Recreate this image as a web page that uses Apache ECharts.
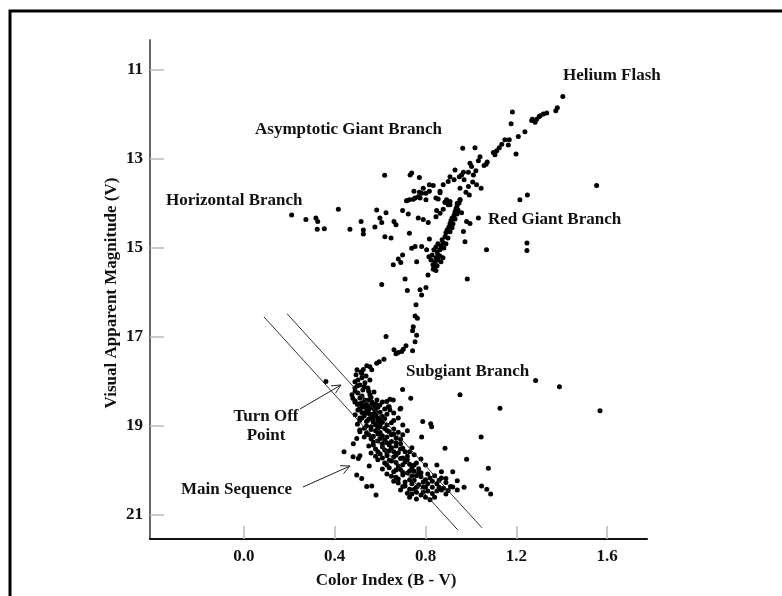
<!DOCTYPE html>
<html>
<head>
<meta charset="utf-8">
<script src="https://cdn.jsdelivr.net/npm/echarts@6/dist/echarts.min.js"></script>
<style>
  html, body { margin: 0; padding: 0; background: #fff; }
  #chart { width: 782px; height: 596px; }
</style>
</head>
<body>
<div id="chart"></div>
<script>
// tick labels
const xTicks = [0.0, 0.4, 0.8, 1.2, 1.6];
const yTicks = [11, 13, 15, 17, 19, 21];

// stars, [B-V, V]
const giantBranch = [
  [1.405,11.60],[1.381,11.85],[1.374,11.92],[1.334,11.97],[1.319,11.99],[1.301,12.05],[1.290,12.11],[1.283,12.18],
  [1.271,12.11],[1.183,11.95],[1.177,12.21],[1.238,12.39],[1.209,12.50],[1.169,12.57],[1.150,12.57],[1.165,12.69],
  [1.136,12.67],[1.125,12.75],[1.114,12.82],[1.106,12.91],[1.099,12.86],[1.199,12.89],[1.072,13.07],[1.067,13.12],
  [1.058,13.15],[1.040,12.95],[1.018,12.75],[0.964,12.76],[1.033,13.04],[1.003,13.17],[0.996,13.10],[1.022,13.27],
  [1.011,13.36],[0.989,13.30],[0.967,13.30],[0.959,13.36],[0.970,13.47],[0.949,13.40],[0.930,13.25],[0.926,13.47],
  [1.025,13.58],[1.008,13.52],[0.989,13.62],[1.045,13.66],[0.978,13.75],[0.993,13.81],[0.952,13.66],[0.908,13.40],
  [0.900,13.51],[0.878,13.58],[0.864,13.73],[0.834,13.60],[0.817,13.58],[0.790,13.66],[0.802,13.77],[0.773,13.75],
  [0.776,13.88],[0.749,13.73],[0.739,13.32],[0.773,13.42],[0.732,13.36],[0.754,13.88],[0.729,13.92],[0.717,13.94],
  [0.856,13.90],[0.886,13.97],[0.893,13.92],[0.952,13.92],[0.940,14.00],[0.908,14.03],[0.620,13.37],
  [1.268,12.14],[1.305,12.03],
  [0.739,15.01],[0.754,14.97],[0.768,14.33],[0.790,14.36],[0.812,14.43],[0.783,14.97],[0.805,15.04],[0.817,14.80],
  [0.761,15.31],[0.699,15.16],[0.680,15.25],[0.658,15.38],[0.691,15.33],[0.710,15.70],[0.607,15.82],[0.720,15.96],
  [0.776,15.94],[0.783,16.06],[0.802,15.89],[0.758,16.28],[0.811,15.61],[0.834,15.48],[0.846,15.51],[0.984,15.70],
  [1.069,15.04],[0.974,14.86],[0.967,14.63],[0.981,14.41],[0.996,14.45],[1.033,14.33],[0.959,14.21],[0.846,14.30],
  [0.849,14.16],[0.864,14.22],[0.878,14.13],[0.886,13.98],[0.908,13.96],[0.900,14.03],[0.717,13.94],[0.746,13.91],
  [0.768,13.85],[0.783,13.77],[0.802,13.92],[0.817,13.73],[0.846,13.88],[0.864,13.76],
  // dense ridge
  [0.842,15.31],[0.846,15.22],[0.855,15.16],[0.851,15.09],[0.864,15.04],[0.868,14.96],[0.877,14.89],[0.873,14.82],
  [0.886,14.75],[0.890,14.66],[0.895,14.60],[0.903,14.53],[0.908,14.46],[0.912,14.39],[0.917,14.33],[0.926,14.26],
  [0.930,14.19],[0.934,14.12],[0.939,14.06],[0.948,13.99],[0.952,13.92],[0.833,15.38],[0.855,15.27],[0.864,15.18],
  [0.881,15.00],[0.890,14.91],[0.899,14.78],[0.908,14.64],[0.917,14.55],[0.921,14.46],[0.930,14.35],[0.939,14.24],
  [0.943,14.15],[0.829,15.16],[0.837,15.04],[0.846,14.98],[0.855,14.91],[0.824,15.27],[0.815,15.20],[0.868,15.31],
  [0.877,15.22],[0.837,15.45],[0.851,15.40]
];

const horizontalBranch = [
  [0.210,14.26],[0.273,14.36],[0.317,14.33],[0.325,14.41],[0.323,14.58],[0.354,14.57],[0.416,14.13],[0.467,14.58],
  [0.516,14.41],[0.526,14.60],[0.526,14.69],[0.585,14.15],[0.577,14.53],[0.599,14.33],[0.607,14.43],[0.626,14.21],
  [0.621,14.75],[0.648,14.78],[0.661,14.41],[0.670,14.48],[0.699,14.16],[0.724,14.24],[0.729,14.67]
];

const subgiantBranch = [
  [0.754,16.53],[0.764,16.58],[0.746,16.77],[0.743,16.86],[0.761,16.96],[0.754,17.11],[0.626,16.99],[0.714,17.20],
  [0.702,17.28],[0.695,17.33],[0.680,17.35],[0.661,17.29],[0.670,17.38],[0.743,17.31],[0.617,17.50],[0.596,17.56],
  [0.585,17.59],[0.555,17.67],[0.541,17.65],[0.563,17.74],[0.526,17.73],[0.519,17.82]
];

const turnOff = [
  [0.494,17.85],[0.502,17.97],[0.520,17.92],[0.511,18.08],[0.489,18.15],[0.533,18.03],[0.524,18.19],[0.502,18.26],
  [0.546,18.15],[0.555,18.30],[0.511,18.37],[0.533,18.42],[0.564,18.46],[0.489,18.46],[0.520,18.53],[0.546,18.60],
  [0.577,18.64],[0.502,18.64],[0.533,18.71],[0.564,18.75],[0.591,18.82],[0.511,18.82],[0.546,18.87],[0.489,18.01],
  [0.476,18.30],[0.538,17.88],[0.555,17.97],[0.573,18.24],[0.586,18.42],[0.599,18.53],[0.498,17.74],[0.516,17.79],
  [0.699,18.18],[0.735,18.38],[0.643,18.40],[0.658,18.42],[0.629,18.45],[0.636,18.57],[0.643,18.64],[0.688,18.62],
  [0.361,18.00],
  [0.50,18.10],[0.53,18.12],[0.49,18.22],[0.52,18.33],[0.55,18.22],[0.48,18.38],[0.51,18.50],[0.56,18.36],
  [0.54,18.52],[0.57,18.56]
];

const mainSequence = [
  [0.49,18.44],[0.52,18.48],[0.55,18.42],[0.58,18.51],[0.61,18.46],[0.64,18.57],[0.51,18.62],[0.54,18.66],[0.57,18.60],[0.60,18.69],[0.66,18.71],
  [0.49,18.75],[0.52,18.82],[0.56,18.78],[0.59,18.89],[0.62,18.84],[0.65,18.93],[0.50,18.96],[0.54,19.00],[0.57,18.91],[0.60,19.02],[0.68,18.82],[0.70,18.98],
  [0.51,19.09],[0.54,19.16],[0.58,19.11],[0.61,19.22],[0.64,19.13],[0.67,19.27],[0.56,19.29],[0.59,19.34],[0.63,19.38],[0.66,19.07],[0.70,19.20],[0.53,19.25],[0.72,19.11],
  [0.55,19.45],[0.58,19.52],[0.61,19.47],[0.64,19.56],[0.67,19.45],[0.71,19.58],[0.74,19.49],[0.60,19.63],[0.63,19.67],[0.66,19.70],[0.69,19.40],[0.75,19.65],[0.56,19.61],
  [0.59,19.76],[0.62,19.83],[0.65,19.79],[0.68,19.90],[0.71,19.81],[0.74,19.94],[0.78,19.74],[0.64,19.94],[0.67,19.99],[0.70,19.72],[0.73,20.01],[0.80,19.88],[0.61,19.97],[0.76,19.83],
  [0.63,20.08],[0.67,20.15],[0.70,20.10],[0.73,20.21],[0.76,20.12],[0.79,20.26],[0.82,20.17],[0.68,20.28],[0.71,20.35],[0.74,20.30],[0.77,20.06],[0.85,20.30],[0.66,20.24],[0.81,20.08],[0.87,20.17],
  [0.69,20.44],[0.72,20.51],[0.75,20.42],[0.78,20.55],[0.81,20.46],[0.84,20.60],[0.87,20.44],[0.76,20.64],[0.79,20.37],[0.73,20.60],[0.89,20.53],[0.92,20.37],[0.82,20.66],
  [0.85,19.88],[0.87,20.03],[0.92,20.03],[0.89,20.18],[0.94,20.23],[0.91,20.36],[0.88,20.40],[0.94,20.44],
  [0.441,19.58],[0.482,19.40],[0.497,20.10],[0.519,20.18],[0.582,20.55],[0.563,20.35],[0.552,19.90],[0.511,19.67],
  [0.504,19.73],[0.481,19.69],[0.541,20.36],[0.511,19.13],[0.497,19.28],
  [0.50,18.52],[0.53,18.57],[0.56,18.54],[0.59,18.58],[0.62,18.62],[0.52,18.70],[0.55,18.72],[0.58,18.76],[0.61,18.79],[0.63,18.74],
  [0.51,18.88],[0.54,18.90],[0.57,18.84],[0.60,18.96],[0.63,18.98],[0.66,18.88],[0.53,19.05],[0.56,19.08],[0.59,19.18],[0.62,19.06],
  [0.65,19.20],[0.68,19.14],[0.55,19.20],[0.57,19.36],[0.60,19.28],[0.62,19.31],[0.65,19.35],[0.69,19.30],[0.57,19.43],[0.59,19.58],
  [0.62,19.54],[0.65,19.49],[0.68,19.60],[0.70,19.50],[0.73,19.58],[0.58,19.68],[0.61,19.72],[0.64,19.77],[0.67,19.66],[0.70,19.87],
  [0.72,19.76],[0.75,19.88],[0.77,19.96],[0.63,19.88],[0.66,20.03],[0.69,19.98],[0.72,20.06],[0.75,20.02],[0.78,20.14],[0.80,20.21],
  [0.65,20.13],[0.68,20.19],[0.71,20.26],[0.75,20.22],[0.77,20.32],[0.80,20.38],[0.83,20.24],[0.86,20.38],[0.70,20.36],[0.73,20.42],
  [0.76,20.49],[0.79,20.49],[0.83,20.52],[0.85,20.46],[0.90,20.45],[0.80,20.60],[0.74,20.53],[0.83,20.38],[0.89,20.27],[0.84,20.12],
  [0.52,18.58],[0.55,18.63],[0.58,18.68],[0.53,18.77],[0.57,18.73],[0.60,18.86],[0.55,18.85],[0.58,18.98],[0.61,18.92],[0.56,19.02],
  [0.59,19.05],[0.63,19.10],[0.60,19.15],[0.57,19.23],[0.63,19.25],[0.66,19.18],[0.61,19.40],[0.64,19.43],[0.67,19.38],[0.63,19.60],
  [0.66,19.58],[0.69,19.52],[0.72,19.68],[0.69,19.73],[0.67,19.82],[0.73,19.86],[0.70,20.04],[0.74,20.12],[0.78,20.05],[0.81,20.30],
  [0.76,20.38],[0.86,20.22]
];

const fieldStars = [
  [1.554,13.60],[1.216,13.92],[1.249,13.81],[1.285,17.98],[1.390,18.12],[1.128,18.60],[1.569,18.66],[1.045,19.25],
  [0.952,18.30],[0.981,19.75],[1.077,19.95],[1.047,20.35],[1.070,20.42],[1.087,20.53],[0.970,20.38],[0.886,19.50],
  [0.823,18.95],[0.827,19.02],[0.788,18.90],[0.783,19.25],[0.691,18.60],[1.247,14.89],[1.247,15.06]
];

// the two slanted guide lines
const boundaryLeft = [[0.088,16.55],[0.943,21.34]];
const boundaryRight = [[0.190,16.48],[1.049,21.29]];

const serif = '"Liberation Serif", "DejaVu Serif", serif';

function arrow(x1, y1, x2, y2) {
  const a = Math.atan2(y2 - y1, x2 - x1);
  const len = 10, spread = 0.45;
  return [
    { type: 'line', shape: { x1: x1, y1: y1, x2: x2, y2: y2 }, style: { stroke: '#222', lineWidth: 1 } },
    { type: 'polyline', shape: { points: [
        [x2 - len * Math.cos(a - spread), y2 - len * Math.sin(a - spread)],
        [x2, y2],
        [x2 - len * Math.cos(a + spread), y2 - len * Math.sin(a + spread)]
      ] }, style: { stroke: '#222', lineWidth: 1, fill: null } }
  ];
}

function label(text, x, y, align) {
  return {
    type: 'text', x: x, y: y,
    style: { text: text, font: 'bold 17px ' + serif, fill: '#111', align: align || 'left', verticalAlign: 'middle', lineHeight: 19 }
  };
}

const chart = echarts.init(document.getElementById('chart'));

const allStars = [].concat(giantBranch, horizontalBranch, subgiantBranch, turnOff, mainSequence, fieldStars);

chart.setOption({
  animation: false,
  backgroundColor: '#fff',
  grid: { left: 150, top: 40, right: 135, bottom: 57, containLabel: false },
  xAxis: {
    type: 'value', min: -0.414, max: 1.776,
    axisLine: { onZero: false, lineStyle: { color: '#111', width: 2 } },
    axisTick: { show: true, inside: true, length: 13, customValues: xTicks, lineStyle: { color: '#bbb', width: 1.5 } },
    axisLabel: { customValues: xTicks, margin: 9, formatter: v => v.toFixed(1), color: '#111', fontFamily: serif, fontWeight: 'bold', fontSize: 17 },
    splitLine: { show: false }
  },
  yAxis: {
    type: 'value', inverse: true, min: 10.33, max: 21.54,
    axisLine: { show: true, onZero: false, lineStyle: { color: '#666', width: 2 } },
    axisTick: { show: true, inside: true, length: 14, customValues: yTicks, lineStyle: { color: '#bbb', width: 1.5 } },
    axisLabel: { customValues: yTicks, margin: 7, color: '#111', fontFamily: serif, fontWeight: 'bold', fontSize: 17 },
    splitLine: { show: false }
  },
  series: [
    { type: 'scatter', data: allStars, symbolSize: 5, itemStyle: { color: '#000', opacity: 1 } },
    { type: 'line', data: boundaryLeft, symbol: 'none', lineStyle: { color: '#333', width: 1 } },
    { type: 'line', data: boundaryRight, symbol: 'none', lineStyle: { color: '#333', width: 1 } }
  ],
  graphic: [
    { type: 'rect', shape: { x: 10, y: 11, width: 800, height: 620 }, style: { stroke: '#000', lineWidth: 3, fill: null }, silent: true },
    label('Helium Flash', 563, 76),
    label('Asymptotic Giant Branch', 255, 130),
    label('Horizontal Branch', 166, 201),
    label('Red Giant Branch', 488, 220),
    label('Subgiant Branch', 406, 372),
    label('Turn Off\nPoint', 266, 426, 'center'),
    label('Main Sequence', 181, 490),
    label('Color Index (B - V)', 386, 581, 'center'),
    {
      type: 'text', x: 112, y: 293, rotation: Math.PI / 2,
      style: { text: 'Visual Apparent Magnitude (V)', font: 'bold 17px ' + serif, fill: '#111', align: 'center', verticalAlign: 'middle' }
    }
  ].concat(arrow(300, 409, 341, 385), arrow(303, 487, 350, 466))
});
</script>
</body>
</html>
